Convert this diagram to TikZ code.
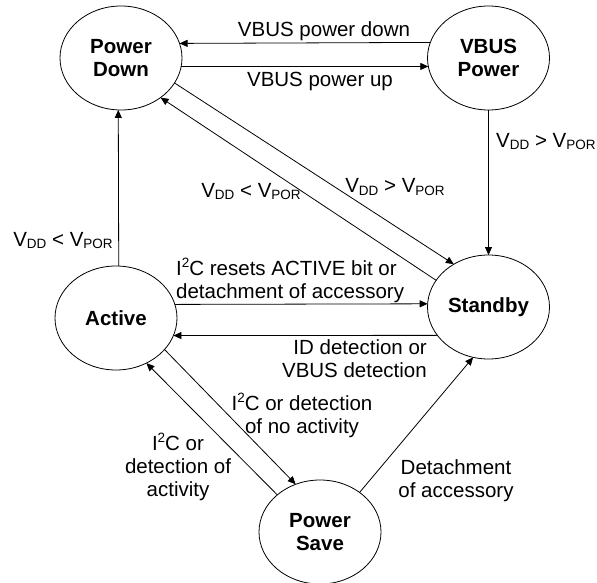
\documentclass[tikz,border=0pt]{standalone}
\usepackage{fontspec}
\setmainfont{Liberation Sans}
\usetikzlibrary{shapes.geometric,arrows.meta}
\newcommand{\mysub}[1]{\raisebox{-2.7pt}{\fontsize{13.5}{13.5}\selectfont #1}}
\newcommand{\mysup}[1]{\raisebox{7.5pt}{\fontsize{13.5}{13.5}\selectfont #1}}
\begin{document}
\begin{tikzpicture}[x=1pt,y=-1pt,
  statenode/.style={ellipse,draw,line width=0.8pt,minimum width=122pt,minimum height=104pt,
    inner sep=0pt,outer sep=0pt,align=center,font=\fontsize{20.5}{23.5}\selectfont\bfseries},
  lbl/.style={inner sep=0pt,font=\fontsize{20.5}{23}\selectfont},
  conn/.style={line width=0.8pt,-{Triangle[length=8pt,width=7pt]}}]
\useasboundingbox (0,0) rectangle (597,583);
\node[statenode] (pd) at (121,58) {Power\\Down};
\node[statenode] (vbus) at (488.5,58) {VBUS\\Power};
\node[statenode] (standby) at (488.5,307) {Standby};
\node[statenode] (active) at (116,318) {Active};
\node[statenode] (ps) at (320,532) {Power\\Save};

\draw[conn] (vbus.165.6) -- (pd.14.4);
\draw[conn] (pd.-8.5) -- (vbus.188.5);
\draw[conn] (pd.-25.3) -- (standby.129.7);
\draw[conn] (standby.153.2) -- (pd.-45.7);
\draw[conn] (active.87.8) -- (pd.-93.3);
\draw[conn] (vbus.south) -- (standby.north);
\draw[conn] (active.13.4) -- (standby.177.2);
\draw[conn] (standby.209.8) -- (active.-17.5);
\draw[conn] (active.-33.1) -- (ps.117);
\draw[conn] (ps.139.3) -- (active.-56);
\draw[conn] (ps.45) -- (standby.253.1);

\node[lbl,anchor=base] (l1) at (324,37) {VBUS power down};
\node[lbl,anchor=base] (l2) at (320,87) {VBUS power up};
\node[lbl,anchor=base west] (l3) at (496,147) {V\mysub{DD} > V\mysub{POR}};
\node[lbl,anchor=base] (l4) at (395,193) {V\mysub{DD} > V\mysub{POR}};
\node[lbl,anchor=base] (l5) at (251,197) {V\mysub{DD} < V\mysub{POR}};
\node[lbl,anchor=base] (l6) at (63,246) {V\mysub{DD} < V\mysub{POR}};
\node[lbl,anchor=base west,align=left] (l7) at (176,298) {I\mysup{2}C resets ACTIVE bit or\\detachment of accessory};
\node[lbl,anchor=base east,align=right] (l8) at (427,377) {ID detection or\\VBUS detection};
\node[lbl,anchor=base,align=center] (l9) at (302,433) {I\mysup{2}C or detection\\of no activity};
\node[lbl,anchor=base,align=center] (l10) at (178,496) {I\mysup{2}C or\\detection of\\activity};
\node[lbl,anchor=base,align=center] (l11) at (456,497) {Detachment\\of accessory};
\end{tikzpicture}
\end{document}
